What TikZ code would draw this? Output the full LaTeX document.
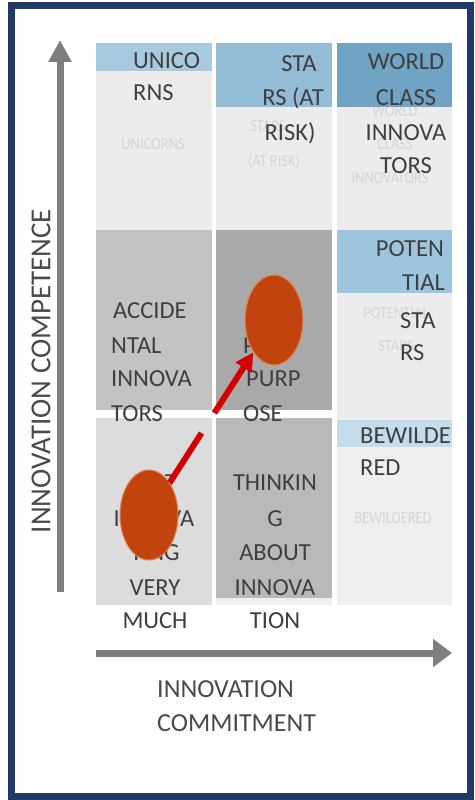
\documentclass[tikz,border=0pt]{standalone}
\usepackage{fontspec}
\setmainfont{Carlito}
\newfontfamily\ghostfont[FakeStretch=0.85]{Carlito}
\usetikzlibrary{arrows.meta,calc,shapes.geometric}
\definecolor{navy}{HTML}{1F3A66}
\definecolor{txtgray}{HTML}{3F3F3F}
\definecolor{lblgray}{HTML}{4A4A4A}
\definecolor{ghostgray}{HTML}{D6D6D6}
\definecolor{cellpale}{HTML}{ECECEC}
\definecolor{cellpaler}{HTML}{EFEFEF}
\definecolor{midgray}{HTML}{C3C3C3}
\definecolor{darkgray}{HTML}{A9A9A9}
\definecolor{lowgray}{HTML}{DCDCDC}
\definecolor{lowmid}{HTML}{B9B9B9}
\definecolor{blueA}{HTML}{A8CADF}
\definecolor{blueB}{HTML}{93BCD7}
\definecolor{blueC}{HTML}{70A3C4}
\definecolor{blueD}{HTML}{9DC5DE}
\definecolor{blueE}{HTML}{C4DCEB}
\definecolor{axisgray}{HTML}{7F7F7F}
\definecolor{blobfill}{HTML}{C1440E}
\definecolor{blobedge}{HTML}{E5834A}
\definecolor{arrowred}{HTML}{D40000}
\begin{document}
\begin{tikzpicture}[x=1pt,y=-1pt,
  txt/.style={font=\fontsize{24.5}{24.5}\selectfont, text=txtgray, inner sep=0pt},
  lbl/.style={font=\fontsize{26}{26}\selectfont, text=lblgray, inner sep=0pt},
  ghost/.style={font=\ghostfont\fontsize{17}{17}\selectfont, text=ghostgray, inner sep=0pt, anchor=base},
  blob/.style={ellipse, minimum width=58pt, minimum height=90pt, inner sep=0pt, fill=blobfill, draw=blobedge, line width=1pt},
  axisline/.style={draw=axisgray, line width=7pt},
  redline/.style={draw=arrowred, line width=6pt}
]
\useasboundingbox (0,0) rectangle (474,800);
\fill[white] (0,0) rectangle (474,800);
\draw[navy, line width=7pt] (11.5,5.5) rectangle (470.5,796.5);

% cells
\fill[cellpale] (96,43) rectangle (212,230);
\fill[cellpale] (216,43) rectangle (332,230);
\fill[cellpale] (337,43) rectangle (452,230);
\fill[midgray] (96,230) rectangle (212,410);
\fill[darkgray] (216,230) rectangle (332,410);
\fill[cellpale] (337,230) rectangle (452,418);
\fill[lowgray] (96,418) rectangle (212,605);
\fill[cellpaler] (216,598) rectangle (332,605);
\fill[lowmid] (216,418) rectangle (332,598);
\fill[cellpaler] (337,418) rectangle (452,605);

% ghost texts
\node[ghost] (g1) at (153,149) {UNICORNS};
\node[ghost] (g2) at (268,131) {STARS};
\node[ghost] (g3) at (274,166) {(AT RISK)};
\node[ghost] (g4) at (395,116) {WORLD};
\node[ghost] (g5) at (395,149) {CLASS};
\node[ghost] (g6) at (390,183) {INNOVATORS};
\node[ghost] (g7) at (396,318) {POTENTIAL};
\node[ghost] (g8) at (396,351) {STARS};
\node[ghost] (g9) at (393,523) {BEWILDERED};

% blue bands
\fill[blueA] (96,43) rectangle (212,71);
\fill[blueB] (216,43) rectangle (332,107);
\fill[blueC] (337,43) rectangle (452,107);
\fill[blueD] (337,230) rectangle (452,293);
\fill[blueE] (337,420) rectangle (452,447);

% cell texts
\node[txt, anchor=base west] (a1) at (133,69) {UNICO};
\node[txt, anchor=base west] (a2) at (133,100) {RNS};
\node[txt, anchor=base] (b1) at (299,71) {STA};
\node[txt, anchor=base] (b2) at (293,105) {RS (AT};
\node[txt, anchor=base] (b3) at (290,140) {RISK)};
\node[txt, anchor=base] (c1) at (406,70) {WORLD};
\node[txt, anchor=base] (c2) at (406,105) {CLASS};
\node[txt, anchor=base] (c3) at (406,140) {INNOVA};
\node[txt, anchor=base] (c4) at (406,173) {TORS};
\node[txt, anchor=base west] (d1) at (113,318) {ACCIDE};
\node[txt, anchor=base west] (d2) at (111,353) {NTAL};
\node[txt, anchor=base west] (d3) at (111,386) {INNOVA};
\node[txt, anchor=base west] (d4) at (111,421) {TORS};
\node[txt, anchor=base west] (e1t) at (243,353) {P};
\node[txt, anchor=base west] (e2t) at (246,386) {PURP};
\node[txt, anchor=base west] (e3t) at (243,421) {OSE};
\node[txt, anchor=base east] (f1) at (444,256) {POTEN};
\node[txt, anchor=base east] (f2) at (445,290) {TIAL};
\node[txt, anchor=base west] (f3) at (400,328) {STA};
\node[txt, anchor=base west] (f4) at (400,360) {RS};
\node[txt, anchor=base] (h1) at (155,490) {NOT};
\node[txt, anchor=base] (h2) at (154,526) {INNOVA};
\node[txt, anchor=base] (h3) at (155,560) {TING};
\node[txt, anchor=base] (h4) at (155,595) {VERY};
\node[txt, anchor=base] (h5) at (155,628) {MUCH};
\node[txt, anchor=base] (k1) at (275,490) {THINKIN};
\node[txt, anchor=base] (k2) at (275,526) {G};
\node[txt, anchor=base] (k3) at (275,560) {ABOUT};
\node[txt, anchor=base] (k4) at (275,595) {INNOVA};
\node[txt, anchor=base] (k5) at (275,628) {TION};
\node[txt, anchor=base west] (m1) at (360,443) {BEWILDE};
\node[txt, anchor=base west] (m2) at (360,475) {RED};

% axes
\coordinate (vy0) at (60,592);
\coordinate (vy1) at (60,40);
\draw[axisline, -{Triangle[width=22pt,length=22pt]}] (vy0) -- (vy1);
\coordinate (hx0) at (96,653);
\coordinate (hx1) at (452,653);
\draw[axisline, -{Triangle[width=27pt,length=19pt]}] (hx0) -- (hx1);
\node[lbl, rotate=90, font=\fontsize{29}{29}\selectfont] (ylab) at (41,371) {INNOVATION COMPETENCE};
\node[lbl, anchor=base west] (xlab1) at (157,697) {INNOVATION};
\node[lbl, anchor=base west] (xlab2) at (157,731) {COMMITMENT};

% blobs and arrow
\node[blob] (top) at (274,320) {};
\node[blob] (low) at (149,515) {};
\coordinate (gapA) at ($(low)!0.42!(top)$);
\coordinate (gapB) at ($(low)!0.523!(top)$);
\draw[redline] (low) -- (gapA);
\draw[redline, -{Triangle[width=18pt,length=18pt]}] (gapB) -- (top);
\end{tikzpicture}
\end{document}
